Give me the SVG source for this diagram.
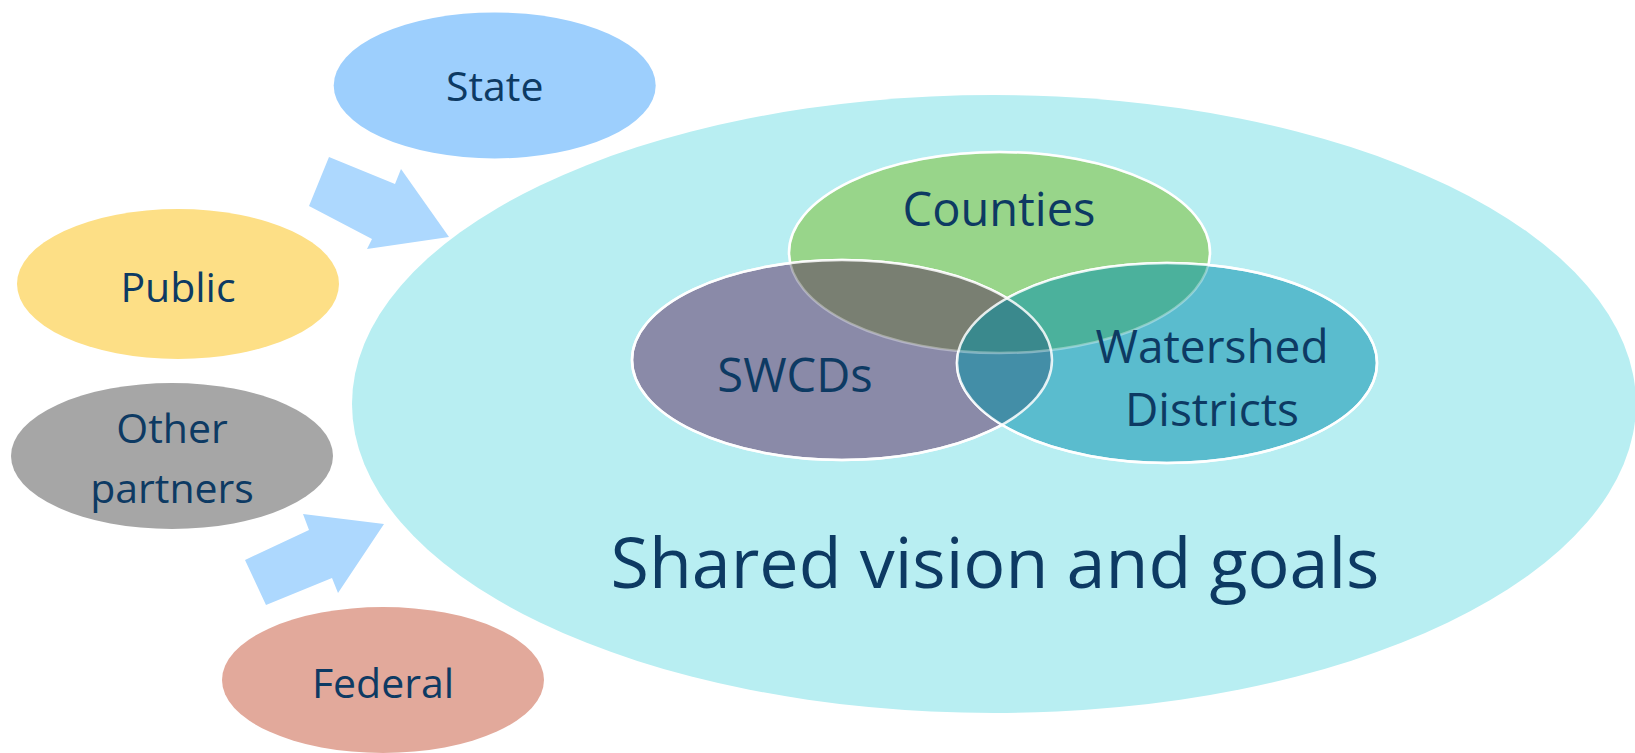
<svg xmlns="http://www.w3.org/2000/svg" width="1635" height="753" viewBox="0 0 1635 753">
<style>
text{font-family:"Open Sans","Noto Sans","Liberation Sans",sans-serif;fill:#0d3a63;text-anchor:middle}
.s{font-size:41px}
.m{font-size:47px}
.w{font-size:46px}
.l{font-size:70px}
.arrow{fill:#add8fe}
.v{stroke:#ffffff;stroke-width:2.5}
</style>
<defs>
<ellipse id="eC" cx="999.5" cy="252.5" rx="210.5" ry="100.5"/>
<ellipse id="eS" cx="842" cy="360" rx="210" ry="100"/>
<ellipse id="eW" cx="1167" cy="363" rx="210" ry="100"/>
<clipPath id="cC"><use href="#eC"/></clipPath>
<clipPath id="cS"><use href="#eS"/></clipPath>
<clipPath id="cW"><use href="#eW"/></clipPath>
</defs>
<g id="shared">
<ellipse cx="994" cy="404" rx="642" ry="309" fill="#b8eef2"/>
<text class="l" x="995" y="588">Shared vision and goals</text>
</g>
<g id="connectors">
<polygon class="arrow" points="329,157 395,184 401,169 449,237 367,249 372,239 309,206"/>
<polygon class="arrow" points="245,560 309,530 303,514 384,524 338,593 332,578 266,605"/>
</g>
<g id="state">
<ellipse cx="494.7" cy="85.4" rx="161" ry="73" fill="#9dcffd"/>
<text class="s" x="494.7" y="101">State</text>
</g>
<g id="public">
<ellipse cx="178" cy="284" rx="161" ry="75" fill="#fddf86"/>
<text class="s" x="178" y="302">Public</text>
</g>
<g id="other">
<ellipse cx="172" cy="456" rx="161" ry="73" fill="#a6a6a6"/>
<text class="s" x="172" y="443">Other</text>
<text class="s" x="172" y="503">partners</text>
</g>
<g id="federal">
<ellipse cx="383" cy="680" rx="161" ry="73" fill="#e2a99b"/>
<text class="s" x="383" y="698">Federal</text>
</g>
<g id="venn">
<use href="#eC" fill="#98d58a" class="v"/>
<use href="#eS" fill="#8a8aa8" class="v"/>
<use href="#eW" fill="#5abcce" class="v"/>
<g clip-path="url(#cC)">
<use href="#eS" fill="#797f72"/>
<use href="#eW" fill="#4bb19c"/>
</g>
<g clip-path="url(#cS)">
<use href="#eW" fill="#438ea7"/>
<g clip-path="url(#cC)"><use href="#eW" fill="#3a898d"/></g>
</g>
<g fill="none" stroke="#ffffff" stroke-width="2.5">
<use href="#eS" stroke-opacity="0.85"/>
<use href="#eW" stroke-opacity="0.85"/>
<use href="#eC" stroke-opacity="0.35"/>
</g>
</g>
<g id="counties"><text class="m" x="999" y="226">Counties</text></g>
<g id="swcds"><text class="m" x="795" y="392">SWCDs</text></g>
<g id="watershed">
<text class="w" x="1212" y="363">Watershed</text>
<text class="w" x="1212" y="426">Districts</text>
</g>
</svg>
